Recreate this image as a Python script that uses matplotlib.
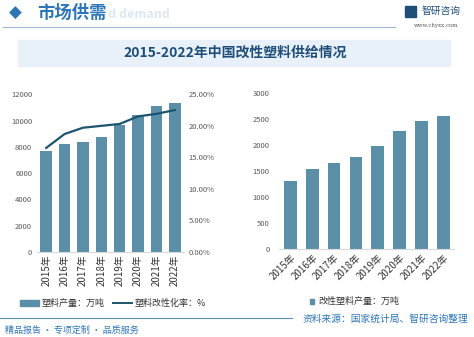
import matplotlib.pyplot as plt
import numpy as np

plt.rcParams['font.family'] = ['Noto Sans CJK SC', 'DejaVu Sans']

years = ['2015年', '2016年', '2017年', '2018年', '2019年', '2020年', '2021年', '2022年']
plastic_output = [7700, 8200, 8400, 8750, 9700, 10450, 11100, 11300]   # 万吨
modify_rate = [16.5, 18.7, 19.7, 20.0, 20.3, 21.5, 21.9, 22.5]        # %
modified_output = [1300, 1545, 1655, 1760, 1970, 2270, 2450, 2545]    # 万吨

bar_c = '#5b8fa8'
line_c = '#1d5470'
tick_c = '#595959'
blue = '#2e75b6'

W, H = 474, 337
fig = plt.figure(figsize=(W / 100, H / 100), dpi=100)
fig.patch.set_facecolor('white')

def fx(px):
    return px / W

def fy(py):
    return 1 - py / H

# header
fig.text(fx(9), fy(13), '◆', color=blue, fontsize=12, va='center', family=['DejaVu Sans'])
fig.text(fx(108), fy(15), 'd demand', color='#dde8f2', fontsize=9, va='center',
         fontweight='bold')
fig.text(fx(37), fy(13), '市场供需', color=blue, fontsize=12.5, va='center', fontweight='bold')
fig.add_artist(plt.Rectangle((fx(405), fy(17)), fx(11), fy(6) - fy(17), color='#1f4e79'))
fig.text(fx(422), fy(11), '智研咨询', color='#1f4e79', fontsize=7, va='center')
fig.text(fx(458), fy(25), 'www.chyxx.com', color='#555555', fontsize=4, va='center', ha='right',
         family=['DejaVu Serif'])
fig.add_artist(plt.Line2D([fx(3), fx(395)], [fy(27), fy(27)], color='#9fb8cf', lw=0.8))

# title box
fig.add_artist(plt.Rectangle((fx(18), fy(66)), fx(450) - fx(18), fy(40) - fy(66),
                             color='#e8f1f9', zorder=0))
fig.text(fx(235), fy(53), '2015-2022年中国改性塑料供给情况', color='#1f4e79', fontsize=10,
         ha='center', va='center', fontweight='bold')

x = np.arange(len(years))

# left chart
ax1 = fig.add_axes([fx(37), fy(252), fx(184) - fx(37), fy(94.3) - fy(252)])
ax1.bar(x, plastic_output, width=0.62, color=bar_c, zorder=2)
ax1.set_ylim(0, 12000)
ax1.set_yticks(range(0, 12001, 2000))
ax1.set_xlim(-0.5, len(years) - 0.5)
ax1.set_xticks(x)
ax1.set_xticklabels(years, rotation=90)
ax2 = ax1.twinx()
ax2.plot(x, modify_rate, color=line_c, lw=1.6, zorder=3)
ax2.set_ylim(0, 25)
ax2.set_yticks(range(0, 26, 5))
ax2.set_yticklabels(['%.2f%%' % v for v in range(0, 26, 5)])
for a in (ax1, ax2):
    for s in a.spines.values():
        s.set_visible(False)
    a.tick_params(length=0, labelsize=5.5, colors=tick_c, pad=3.5)
ax1.tick_params(axis='x', colors='#333333', labelsize=7, pad=2)
ax1.spines['bottom'].set_visible(True)
ax1.spines['bottom'].set_color('#d9d9d9')

# right chart
ax3 = fig.add_axes([fx(279.4), fy(249.3), fx(454.3) - fx(279.4), fy(92.7) - fy(249.3)])
ax3.bar(x, modified_output, width=0.58, color=bar_c, zorder=2)
ax3.set_ylim(0, 3000)
ax3.set_yticks(range(0, 3001, 500))
ax3.set_xlim(-0.5, len(years) - 0.5)
ax3.set_xticks(x)
ax3.set_xticklabels(years, rotation=45, ha='right', rotation_mode='anchor')
for s in ax3.spines.values():
    s.set_visible(False)
ax3.spines['bottom'].set_visible(True)
ax3.spines['bottom'].set_color('#d9d9d9')
ax3.tick_params(length=0, labelsize=5.5, colors=tick_c, pad=7)
ax3.tick_params(axis='x', colors='#333333', labelsize=7, pad=2)

# legends
fig.add_artist(plt.Rectangle((fx(20), fy(306)), fx(19), fy(300) - fy(306), color=bar_c))
fig.text(fx(42), fy(303), '塑料产量：万吨', fontsize=6.5, color='#333333', va='center')
fig.add_artist(plt.Line2D([fx(113), fx(132)], [fy(303), fy(303)], color=line_c, lw=1.4))
fig.text(fx(135), fy(303), '塑料改性化率：%', fontsize=6.5, color='#333333', va='center')

fig.add_artist(plt.Rectangle((fx(310), fy(304)), fx(4), fy(299) - fy(304), color=bar_c))
fig.text(fx(318), fy(301.5), '改性塑料产量：万吨', fontsize=6.5, color='#333333', va='center')

# footer
fig.add_artist(plt.Line2D([fx(0), fx(292)], [fy(318), fy(318)], color='#5a8fc0', lw=0.8))
fig.text(fx(5), fy(330), '精品报告 · 专项定制 · 品质服务', fontsize=6.5, color=blue, va='center')
fig.text(fx(468), fy(319), '资料来源：国家统计局、智研咨询整理', fontsize=7, color=blue,
         va='center', ha='right')

fig.savefig('out.png', dpi=100)
